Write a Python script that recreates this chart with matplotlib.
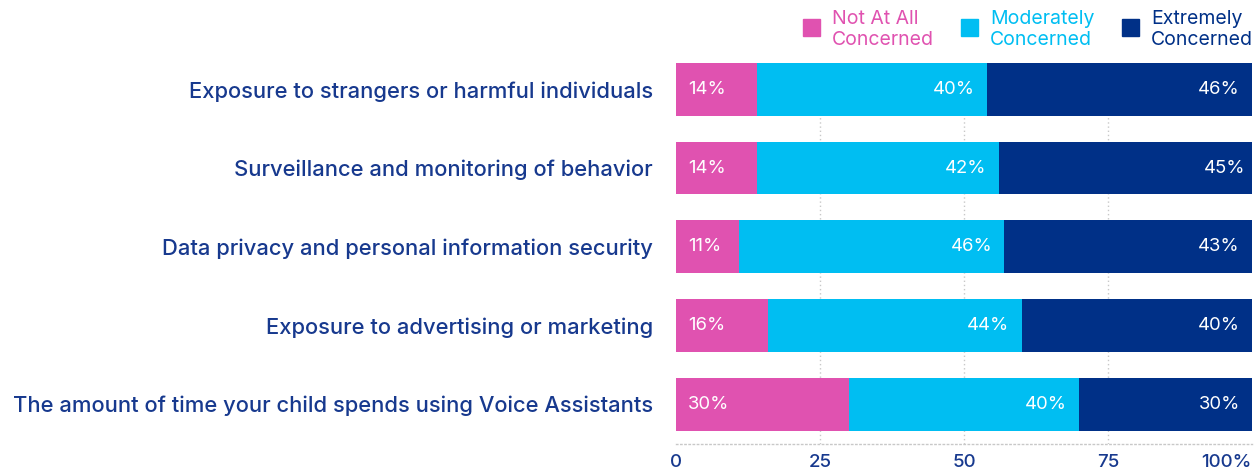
import matplotlib
matplotlib.use("Agg")
import matplotlib.pyplot as plt
from matplotlib.patches import Rectangle

categories = [
    "Exposure to strangers or harmful individuals",
    "Surveillance and monitoring of behavior",
    "Data privacy and personal information security",
    "Exposure to advertising or marketing",
    "The amount of time your child spends using Voice Assistants",
]
not_at_all = [14, 14, 11, 16, 30]
moderately = [40, 42, 46, 44, 40]
extremely = [46, 45, 43, 40, 30]

series_names = ["Not At All\nConcerned", "Moderately\nConcerned", "Extremely\nConcerned"]
colors = ["#E052B0", "#00BEF2", "#003087"]
text_color = "#17398E"
x_ticks = [0, 25, 50, 75, 100]
x_ticklabels = ["0", "25", "50", "75", "100%"]

plt.rcParams["font.family"] = ["Inter", "DejaVu Sans"]

W, H = 1257, 469
fig = plt.figure(figsize=(W / 100, H / 100), dpi=100)
ax = fig.add_axes([676 / W, 25 / H, 576 / W, 381 / H])

ypos = list(range(len(categories)))
bar_h = 0.67
lefts = [0] * len(categories)
for vals, color in zip([not_at_all, moderately, extremely], colors):
    ax.barh(ypos, vals, left=lefts, height=bar_h, color=color, zorder=2)
    lefts = [l + v for l, v in zip(lefts, vals)]

# value labels: first segment from its left edge, others at their right edge
pad = 2.1
lbl = dict(va="center", color="white", fontsize=13.3, zorder=3)
for i in ypos:
    a, b, c = not_at_all[i], moderately[i], extremely[i]
    ax.text(pad, i, f"{a}%", ha="left", **lbl)
    ax.text(a + b - pad, i, f"{b}%", ha="right", **lbl)
    ax.text(a + b + c - pad, i, f"{c}%", ha="right", **lbl)

ax.set_xlim(0, 100)
ax.set_ylim(4.506, -0.335)
ax.set_yticks(ypos)
ax.set_yticklabels(categories, fontsize=15.8, color=text_color, fontweight="medium")
ax.tick_params(axis="y", length=0, pad=16.5)
ax.set_xticks(x_ticks)
ax.set_xticklabels(x_ticklabels, fontsize=13.5, color=text_color, fontweight="medium")
ax.get_xticklabels()[-1].set_ha("right")
ax.get_xticklabels()[-1].set_x(100.2)
ax.tick_params(axis="x", length=0, pad=7.5)

for x in [25, 50, 75]:
    ax.axvline(x, color="#c8c8c8", lw=1, ls=(0, (1, 2)), zorder=1)

for side in ["top", "right", "left"]:
    ax.spines[side].set_visible(False)
ax.spines["bottom"].set_color("#c8c8c8")
ax.spines["bottom"].set_linestyle((0, (1, 2)))
ax.spines["bottom"].set_linewidth(1)

# legend drawn by hand along the top edge
legend_x = [803, 961, 1122]
for x0, name, color in zip(legend_x, series_names, colors):
    fig.add_artist(Rectangle((x0 / W, 1 - 36 / H), 17 / W, 17 / H,
                             transform=fig.transFigure, color=color))
    fig.text((x0 + 29) / W, 1 - 29.5 / H, name, ha="left", va="center",
             color=color, fontsize=14, linespacing=1.15)

fig.savefig("out.png", dpi=100)
